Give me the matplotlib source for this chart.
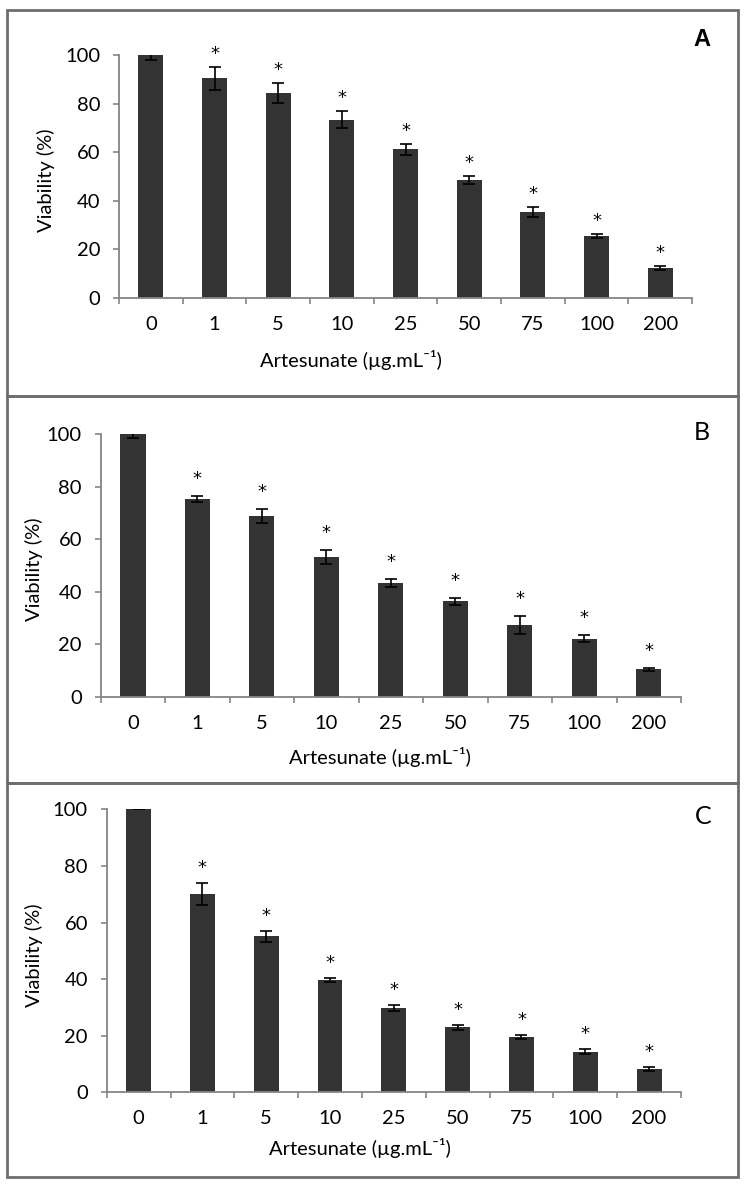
import matplotlib
matplotlib.use("Agg")
import matplotlib.pyplot as plt
from matplotlib.patches import Rectangle

plt.rcParams['font.family'] = ['Lato', 'DejaVu Sans']

categories = ["0", "1", "5", "10", "25", "50", "75", "100", "200"]

viab_A = [100, 90.5, 84.5, 73.5, 61.2, 48.7, 35.4, 25.5, 12.4]
err_A = [2.0, 4.8, 4.1, 3.5, 2.2, 1.7, 2.1, 0.9, 0.7]
sig_A = [False, True, True, True, True, True, True, True, True]

viab_B = [100, 75.3, 68.9, 53.4, 43.5, 36.4, 27.5, 22.2, 10.5]
err_B = [1.5, 1.2, 2.5, 2.7, 1.6, 1.4, 3.4, 1.4, 0.6]
sig_B = [False, True, True, True, True, True, True, True, True]

viab_C = [100, 70.1, 55.1, 39.7, 29.8, 22.9, 19.6, 14.4, 8.2]
err_C = [0.0, 4.0, 1.9, 0.6, 1.2, 0.9, 0.8, 1.0, 0.7]
sig_C = [False, True, True, True, True, True, True, True, True]

yticks = [0, 20, 40, 60, 80, 100]

W, H = 750, 1188
fig = plt.figure(figsize=(W / 100, H / 100), dpi=100)

def fx(px):
    return px / W

def fy(py):
    return 1 - py / H

panels = [
    dict(vals=viab_A, errs=err_A, sig=sig_A, letter="A", weight="bold", lsize=17,
         lfam=["Liberation Sans", "DejaVu Sans"],
         ax=(119, 692, 55.3, 298), frame=(7, 10, 738, 396.5), lpos=(702, 39),
         ylab_x=46, xlab=(351, 360), star=13),
    dict(vals=viab_B, errs=err_B, sig=sig_B, letter="B", weight="normal", lsize=18,
         lfam=["Lato", "DejaVu Sans"],
         ax=(100.7, 681, 434.3, 697), frame=(7, 396.5, 738, 783), lpos=(702, 433),
         ylab_x=34, xlab=(380, 757), star=17),
    dict(vals=viab_C, errs=err_C, sig=sig_C, letter="C", weight="normal", lsize=18,
         lfam=["Lato", "DejaVu Sans"],
         ax=(106.7, 681, 809.3, 1092.3), frame=(7, 783, 738, 1177), lpos=(703, 817),
         ylab_x=34, xlab=(360, 1148), star=15),
]

spine_col = "#858585"
bar_col = "#333333"
fs = 14.5

for p in panels:
    x0, y0, x1, y1 = p["frame"]
    fig.patches.append(Rectangle((fx(x0), fy(y1)), fx(x1) - fx(x0), fy(y0) - fy(y1),
                                 transform=fig.transFigure, fill=False,
                                 edgecolor="#6e6e6e", linewidth=2.0, zorder=0))
    l, r, t, b = p["ax"]
    ax = fig.add_axes([fx(l), fy(b), fx(r) - fx(l), fy(t) - fy(b)])
    xs = list(range(len(categories)))
    ax.bar(xs, p["vals"], width=0.39, color=bar_col, zorder=2)
    ax.errorbar(xs, p["vals"], yerr=p["errs"], fmt="none", ecolor="black",
                elinewidth=1.2, capsize=4, capthick=1.2, zorder=3)
    for xi, v, e, s in zip(xs, p["vals"], p["errs"], p["sig"]):
        if s:
            ax.annotate("*", xy=(xi, v + e), xytext=(0, p["star"] * 0.72),
                        textcoords="offset points", ha="center", va="center",
                        fontsize=13, color="black", family="DejaVu Sans")
    ax.set_xlim(-0.5, len(categories) - 0.5)
    ax.set_ylim(0, 100)
    ax.set_yticks(yticks)
    ax.set_xticks(xs)
    ax.set_xticklabels(categories)
    ax.set_xticks([i - 0.5 for i in range(len(categories) + 1)], minor=True)
    ax.tick_params(axis="x", which="major", length=0, pad=13, labelsize=fs)
    ax.tick_params(axis="x", which="minor", length=4.5, width=1.2, color=spine_col, direction="out")
    ax.tick_params(axis="y", which="major", length=4.5, width=1.2, color=spine_col,
                   pad=9, labelsize=fs)
    for side in ("top", "right"):
        ax.spines[side].set_visible(False)
    for side in ("left", "bottom"):
        ax.spines[side].set_color(spine_col)
        ax.spines[side].set_linewidth(1.3)
    ax.patch.set_alpha(0)
    fig.text(fx(p["ylab_x"]), fy((t + b) / 2 + 4), "Viability (%)", rotation=90,
             ha="center", va="center", fontsize=fs)
    fig.text(fx(p["xlab"][0]), fy(p["xlab"][1]), "Artesunate (µg.mL⁻¹)",
             ha="center", va="center", fontsize=fs)
    fig.text(fx(p["lpos"][0]), fy(p["lpos"][1]), p["letter"], ha="center", va="center",
             fontsize=p["lsize"], fontweight=p["weight"], family=p["lfam"])

fig.savefig("out.png", dpi=100)
